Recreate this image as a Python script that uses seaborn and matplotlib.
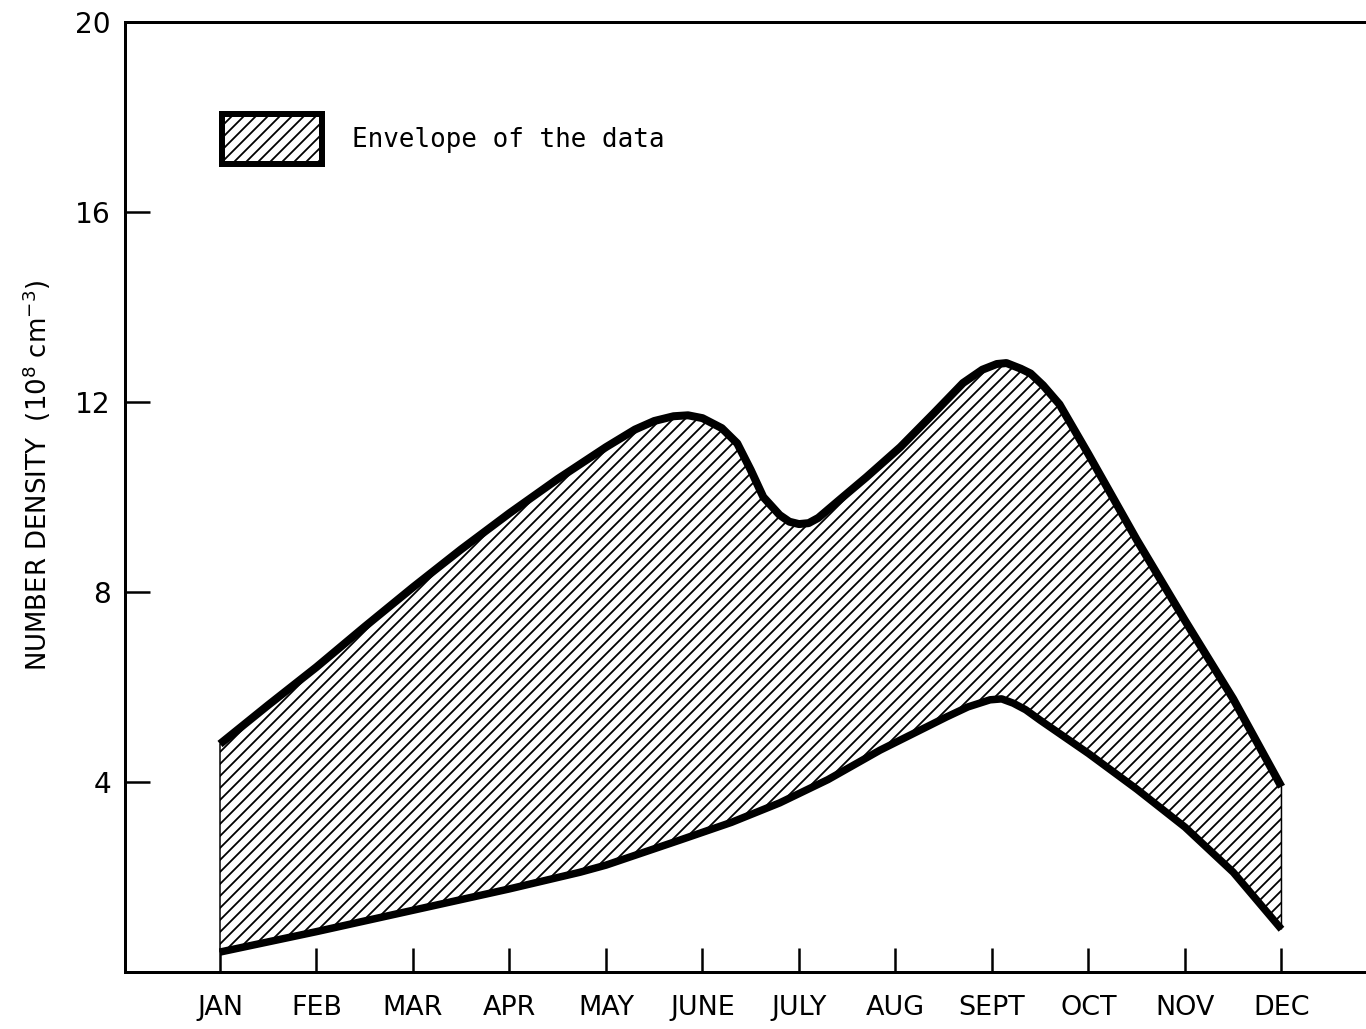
import numpy as np
import pandas as pd
import matplotlib
matplotlib.use("Agg")
import matplotlib.pyplot as plt
from matplotlib.patches import Patch
import seaborn as sns

# ---- data ----
month_labels = ["JAN", "FEB", "MAR", "APR", "MAY", "JUNE", "JULY", "AUG",
                "SEPT", "OCT", "NOV", "DEC"]
month_pos = list(range(1, 13))

upper_x = [1.0, 1.5, 2.0, 2.5, 3.0, 3.5, 4.0, 4.5, 5.0, 5.3, 5.5, 5.7, 5.85,
           6.0, 6.2, 6.36, 6.5, 6.63, 6.8, 6.9, 7.0, 7.1, 7.2, 7.42, 7.7,
           8.05, 8.4, 8.7, 8.9, 9.05, 9.15, 9.3, 9.4, 9.53, 9.7, 10.0, 10.5,
           11.0, 11.5, 12.0]
upper_y = [4.8, 5.62, 6.42, 7.27, 8.1, 8.9, 9.66, 10.38, 11.05, 11.42, 11.6,
           11.7, 11.72, 11.66, 11.45, 11.13, 10.57, 10.0, 9.62, 9.48, 9.43,
           9.45, 9.56, 9.94, 10.42, 11.05, 11.77, 12.4, 12.68, 12.8, 12.82,
           12.7, 12.6, 12.35, 11.95, 10.9, 9.1, 7.4, 5.75, 3.9]

lower_x = [1.0, 2.0, 3.0, 4.0, 4.73, 5.0, 5.77, 6.3, 6.8, 7.3, 7.84, 8.53,
           8.75, 8.98, 9.1, 9.22, 9.35, 9.5, 10.0, 10.5, 11.0, 11.5, 12.0]
lower_y = [0.42, 0.85, 1.3, 1.75, 2.1, 2.25, 2.78, 3.15, 3.56, 4.05, 4.67,
           5.37, 5.58, 5.73, 5.75, 5.66, 5.52, 5.3, 4.6, 3.85, 3.05, 2.1, 0.9]

y_ticks = [4, 8, 12, 16, 20]
y_tick_labels = ["4", "8", "12", "16", "20"]
legend_label = "Envelope of the data"
y_label = "NUMBER DENSITY  (10$^{8}$ cm$^{-3}$)"

# ---- styling ----
sns.set_theme(style="ticks")
plt.rcParams["font.family"] = ["DejaVu Sans"]
plt.rcParams["hatch.linewidth"] = 1.8
plt.rcParams["hatch.color"] = "black"
plt.rcParams["text.color"] = "black"

DPI = 72
fig = plt.figure(figsize=(1366 / DPI, 1029 / DPI), dpi=DPI)
fig.patch.set_facecolor("white")
ax = fig.add_axes([125 / 1366, 57 / 1029, 1 - 125 / 1366, 950 / 1029])
ax.set_facecolor("white")

upper_df = pd.DataFrame({"month": upper_x, "density": upper_y})
lower_df = pd.DataFrame({"month": lower_x, "density": lower_y})

# hatched envelope
poly_x = np.concatenate([upper_df["month"].values, lower_df["month"].values[::-1]])
poly_y = np.concatenate([upper_df["density"].values, lower_df["density"].values[::-1]])
ax.fill(poly_x, poly_y, facecolor="white", edgecolor="black", hatch="//",
        linewidth=1.5, zorder=1)

sns.lineplot(data=upper_df, x="month", y="density", ax=ax, color="black",
             linewidth=8, estimator=None, solid_capstyle="butt",
             solid_joinstyle="round", zorder=3)
sns.lineplot(data=lower_df, x="month", y="density", ax=ax, color="black",
             linewidth=7.5, estimator=None, solid_capstyle="butt",
             solid_joinstyle="round", zorder=3)

ax.set_xlim(0.0155, 12.876)
ax.set_ylim(0, 20)
ax.set_xticks(month_pos)
ax.set_xticklabels(month_labels)
ax.set_yticks(y_ticks)
ax.set_yticklabels(y_tick_labels)
ax.set_xlabel("")
ax.set_ylabel(y_label, fontsize=26, color="black")
ax.yaxis.set_label_coords(-0.058, 0.523)

ax.tick_params(axis="x", direction="in", length=24, width=2.5, pad=23,
               labelsize=27, colors="black")
ax.tick_params(axis="y", direction="in", length=25, width=2.5, pad=14,
               labelsize=28, colors="black")

for side in ["left", "bottom", "top"]:
    ax.spines[side].set_visible(True)
    ax.spines[side].set_linewidth(3)
    ax.spines[side].set_color("black")
ax.spines["right"].set_visible(False)

handle = Patch(facecolor="white", edgecolor="black", hatch="//", linewidth=6)
leg = ax.legend([handle], [legend_label], loc="upper left",
                bbox_to_anchor=(222 / 1366, 1 - 114 / 1029),
                bbox_transform=fig.transFigure, frameon=False,
                borderpad=0, borderaxespad=0,
                handlelength=100 / 26, handleheight=2.58,
                handletextpad=30 / 26,
                prop={"family": "DejaVu Sans Mono", "size": 26})
for t in leg.get_texts():
    t.set_color("black")

fig.savefig("out.png", dpi=DPI, facecolor="white")
